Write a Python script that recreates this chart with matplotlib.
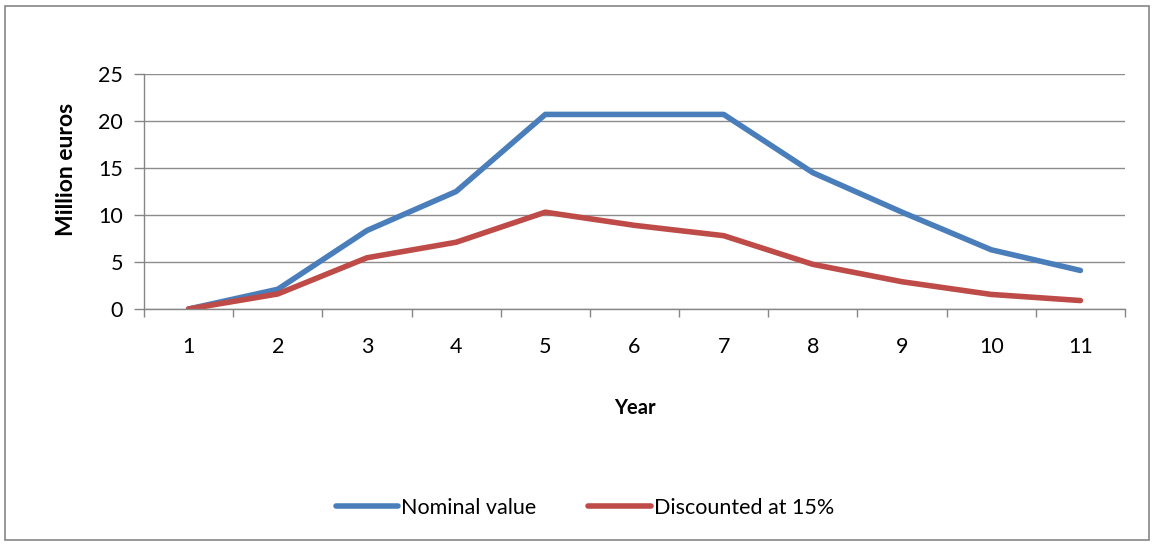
import numpy as np
import matplotlib
matplotlib.use("Agg")
import matplotlib.pyplot as plt
from matplotlib.patches import Rectangle

years = ["1", "2", "3", "4", "5", "6", "7", "8", "9", "10", "11"]
nominal = [0.0, 2.1, 8.35, 12.5, 20.7, 20.7, 20.7, 14.5, 10.3, 6.3, 4.1]
discounted = [0.0, 1.6, 5.45, 7.1, 10.3, 8.9, 7.8, 4.75, 2.9, 1.55, 0.9]

plt.rcParams['font.family'] = ['Lato', 'DejaVu Sans']

fig = plt.figure(figsize=(11.54, 5.45), dpi=100)
ax = fig.add_axes([144/1154, 1 - 309/545, 981/1154, 235/545])

x = np.arange(len(years))
ax.plot(x, nominal, color='#4a7ebb', lw=4, solid_capstyle='round',
        solid_joinstyle='round', label='Nominal value')
ax.plot(x, discounted, color='#be4b48', lw=4, solid_capstyle='round',
        solid_joinstyle='round', label='Discounted at 15%')

ax.set_xlim(-0.5, len(years) - 0.5)
ax.set_ylim(0, 25)
ax.set_yticks(range(0, 26, 5))
ax.set_xticks(x)
ax.set_xticklabels(years)
ax.set_xticks(np.arange(-0.5, len(years), 1), minor=True)
ax.tick_params(axis='x', which='major', length=0, pad=20, labelsize=15.5)
ax.tick_params(axis='x', which='minor', length=6, color='#868686', width=1)
ax.tick_params(axis='y', length=7, color='#868686', width=1, pad=8, labelsize=15.5)

ax.grid(axis='y', color='#8c8c8c', lw=1)
ax.set_axisbelow(True)
for side in ['top', 'right']:
    ax.spines[side].set_visible(False)
for side in ['left', 'bottom']:
    ax.spines[side].set_color('#868686')
    ax.spines[side].set_linewidth(1)

ax.set_ylabel('Million euros', fontsize=16.5, fontweight='bold')
ax.yaxis.set_label_coords(-0.068, 0.596)
ax.set_xlabel('Year', fontsize=14.5, fontweight='bold', labelpad=30)

fig.legend(loc='center', bbox_to_anchor=(585/1154, 1 - 508/545), ncol=2,
           frameon=False, fontsize=15.5, handlelength=2.9, handletextpad=0.15,
           columnspacing=2.4)

# outer chart frame
fig.patches.append(Rectangle((5/1154, 5/545), 1144/1154, 534/545,
                             transform=fig.transFigure, fill=False,
                             edgecolor='#868686', lw=1.2))

fig.savefig('out.png', dpi=100)
